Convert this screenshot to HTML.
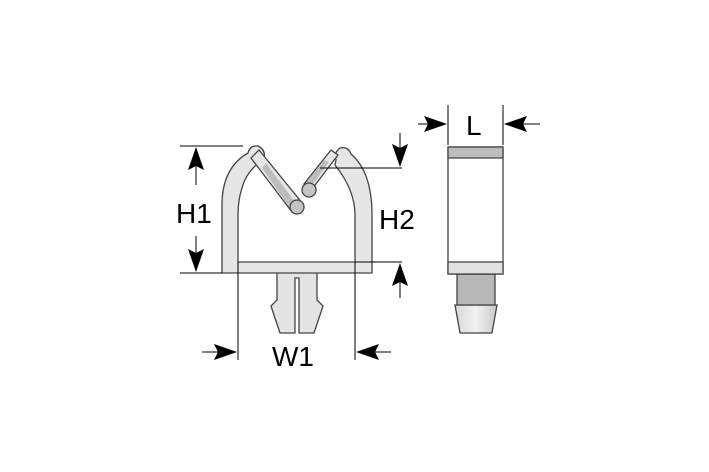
<!DOCTYPE html>
<html><head><meta charset="utf-8"><style>html,body{margin:0;padding:0;background:#fff}svg{display:block}</style></head>
<body>
<svg width="709" height="472" viewBox="0 0 709 472" xmlns="http://www.w3.org/2000/svg">
<defs>
<linearGradient id="tip" x1="0" x2="1"><stop offset="0" stop-color="#d8d8d8"/><stop offset="0.5" stop-color="#f2f2f2"/><stop offset="1" stop-color="#c8c8c8"/></linearGradient>
</defs>
<g stroke="#444" stroke-width="1.3" fill="#e6e6e6">
<path d="M277,272 L277,300 L271,306 L280,333 L295,333 L295,278 L299,278 L299,333 L314,333 L323,306 L317,300 L317,272 Z" fill="#e4e4e4"/>
<path d="M222,273 L222,205 Q222,168 248,153 Q250,145 258,146 Q266,150 264,158 L262,160 Q246,172 242,188 Q238,200 238,215 L238,262 L355,262 L355,215 Q355,190 335,165 L336,160 Q334,152 340,148 Q348,146 351,154 Q372,172 372,215 L372,273 Z"/>
<path d="M259,150 L303,204 L292,212 L251,158 Z" fill="#e6e6e6"/>
<path d="M266,163 L298,206 L292,211 L262,168 Z" fill="#bdbdbd" stroke="none"/>
<circle cx="297" cy="207" r="7" fill="#c4c4c4"/>
<path d="M338,155 L312,189 L304,184 L331,150 Z" fill="#e6e6e6"/>
<path d="M329,162 L310,188 L305,184 L324,160 Z" fill="#bdbdbd" stroke="none"/>
<circle cx="309" cy="190" r="7" fill="#c4c4c4"/>
</g>
<g stroke="#000" stroke-width="1" fill="none">
<line x1="180" y1="146" x2="243" y2="146"/><line x1="180" y1="273" x2="222" y2="273"/>
<line x1="196" y1="185" x2="196" y2="160"/>
<line x1="196" y1="236" x2="196" y2="260"/>
<line x1="320" y1="168" x2="402" y2="168"/><line x1="355" y1="262" x2="402" y2="262"/>
<line x1="400" y1="133" x2="400" y2="155"/>
<line x1="400" y1="298" x2="400" y2="275"/>
<line x1="238" y1="262" x2="238" y2="360"/><line x1="355" y1="262" x2="355" y2="360"/>
<line x1="202" y1="352" x2="225" y2="352"/>
<line x1="391" y1="352" x2="368" y2="352"/>
<line x1="448" y1="105" x2="448" y2="145"/><line x1="503" y1="105" x2="503" y2="145"/>
<line x1="418" y1="124" x2="435" y2="124"/>
<line x1="540" y1="124" x2="516" y2="124"/>
</g>
<g fill="#000">
<path d="M196,147 L204,170 L196,166 L188,170 Z"/>
<path d="M196,272 L204,249 L196,253 L188,249 Z"/>
<path d="M400,167 L408,144 L400,148 L392,144 Z"/>
<path d="M400,263 L408,286 L400,282 L392,286 Z"/>
<path d="M237,352 L214,344 L218,352 L214,360 Z"/>
<path d="M356,352 L379,344 L375,352 L379,360 Z"/>
<path d="M447,124 L424,116 L428,124 L424,132 Z"/>
<path d="M504,124 L527,116 L523,124 L527,132 Z"/>
</g>
<g font-family="Liberation Sans, sans-serif" font-size="28" fill="#000">
<text x="176" y="223">H1</text>
<text x="379" y="229">H2</text>
<text x="272" y="366">W1</text>
<text x="466" y="135">L</text>
</g>
<g stroke="#444" stroke-width="1.3">
<path d="M455,305 L497,305 L492,333 L460,333 Z" fill="url(#tip)"/>
<rect x="457" y="274" width="38" height="31" fill="#b8b8b8"/>
<rect x="448" y="147" width="55" height="127" fill="#fff"/>
<rect x="448" y="147" width="55" height="11" fill="#bdbdbd"/>
<rect x="448" y="262" width="55" height="12" fill="#e2e2e2"/>
</g>
</svg>
</body></html>
